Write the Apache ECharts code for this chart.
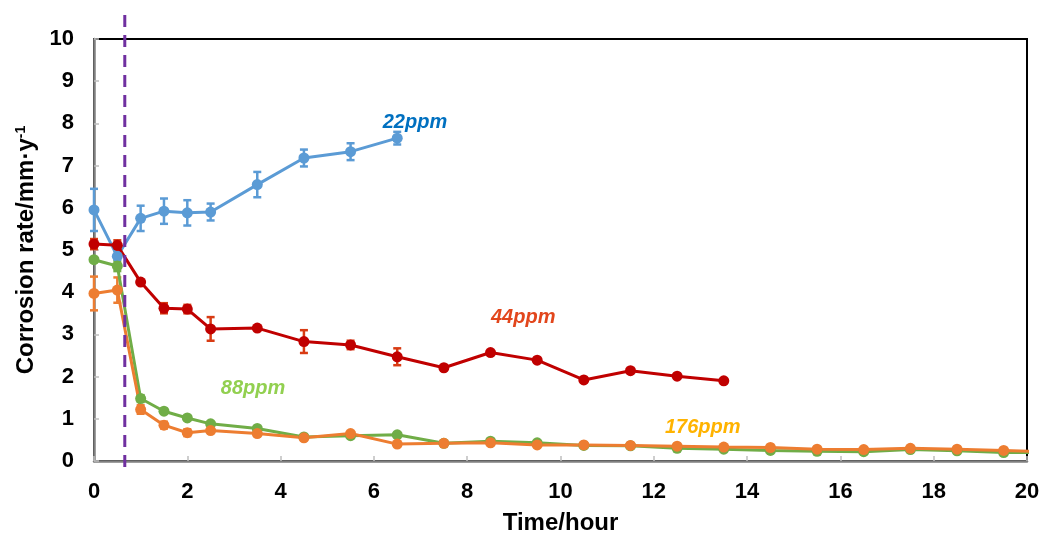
<!DOCTYPE html>
<html>
<head>
<meta charset="utf-8">
<script src="https://cdn.jsdelivr.net/npm/echarts@6/dist/echarts.min.js"></script>
<style>
html, body { margin: 0; padding: 0; background: #fff; }
#chart { width: 1042px; height: 535px; }
</style>
</head>
<body>
<div id="chart"></div>
<script>
// time points (hour)
const time22 = [0, 0.5, 1, 1.5, 2, 2.5, 3.5, 4.5, 5.5, 6.5];
const time44 = [0, 0.5, 1, 1.5, 2, 2.5, 3.5, 4.5, 5.5, 6.5, 7.5, 8.5, 9.5, 10.5, 11.5, 12.5, 13.5];
const timeLong = [0, 0.5, 1, 1.5, 2, 2.5, 3.5, 4.5, 5.5, 6.5, 7.5, 8.5, 9.5, 10.5, 11.5, 12.5, 13.5, 14.5, 15.5, 16.5, 17.5, 18.5, 19.5, 20.5];

// corrosion rate (mm/y) and error bars
const rate22 = [5.95, 4.85, 5.75, 5.92, 5.88, 5.9, 6.55, 7.18, 7.33, 7.65];
const err22 = [0.5, 0.2, 0.3, 0.3, 0.3, 0.2, 0.3, 0.2, 0.2, 0.15];
const rate44 = [5.14, 5.11, 4.24, 3.62, 3.6, 3.13, 3.15, 2.83, 2.75, 2.47, 2.21, 2.57, 2.39, 1.92, 2.14, 2.01, 1.9];
const err44 = [0.12, 0.12, 0, 0.12, 0.1, 0.28, 0, 0.27, 0.1, 0.2, 0, 0, 0, 0, 0, 0, 0];
const rate88 = [4.77, 4.62, 1.48, 1.18, 1.02, 0.88, 0.77, 0.57, 0.6, 0.62, 0.42, 0.47, 0.43, 0.37, 0.36, 0.3, 0.28, 0.25, 0.23, 0.22, 0.27, 0.24, 0.2, 0.2];
const err88 = [0.05, 0.12, 0.08, 0, 0, 0, 0, 0, 0, 0, 0, 0, 0, 0, 0, 0, 0, 0, 0, 0, 0, 0, 0, 0];
const rate176 = [3.97, 4.05, 1.22, 0.85, 0.67, 0.72, 0.65, 0.55, 0.65, 0.4, 0.42, 0.43, 0.38, 0.38, 0.37, 0.35, 0.33, 0.32, 0.28, 0.27, 0.3, 0.28, 0.25, 0.22];
const err176 = [0.4, 0.3, 0.1, 0.08, 0.08, 0, 0, 0, 0, 0, 0, 0, 0, 0, 0, 0, 0, 0, 0, 0, 0, 0, 0, 0];

// series labels: text, x, y (data space), colour
const labelNames = ['22ppm', '44ppm', '88ppm', '176ppm'];
const labelX = [6.88, 9.2, 3.41, 13.05];
const labelY = [8.03, 3.39, 1.73, 0.8];
const labelColors = ['#0070C0', '#E2461C', '#92D050', '#FFB300'];

// inhibitor injection time
const injectTime = 0.66;

const chart = echarts.init(document.getElementById('chart'));

function pairs(xs, ys) {
    return xs.map((x, i) => [x, ys[i]]);
}

function lineSeries(name, xs, ys, color) {
    return {
        name: name,
        type: 'line',
        data: pairs(xs, ys),
        symbol: 'circle',
        symbolSize: 11,
        lineStyle: { color: color, width: 3 },
        itemStyle: { color: color },
        z: 4,
        clip: true
    };
}

function errorSeries(xs, ys, errs, color) {
    const data = [];
    xs.forEach((x, i) => {
        if (errs[i] > 0) data.push([x, ys[i] - errs[i], ys[i] + errs[i]]);
    });
    return {
        type: 'custom',
        silent: true,
        z: 3,
        data: data,
        encode: { x: 0, y: [1, 2] },
        renderItem: (params, api) => {
            const lo = api.coord([api.value(0), api.value(1)]);
            const hi = api.coord([api.value(0), api.value(2)]);
            const w = 4;
            const style = { stroke: color, lineWidth: 2.5 };
            return {
                type: 'group',
                children: [
                    { type: 'line', shape: { x1: lo[0], y1: lo[1], x2: hi[0], y2: hi[1] }, style: style },
                    { type: 'line', shape: { x1: lo[0] - w, y1: lo[1], x2: lo[0] + w, y2: lo[1] }, style: style },
                    { type: 'line', shape: { x1: hi[0] - w, y1: hi[1], x2: hi[0] + w, y2: hi[1] }, style: style }
                ]
            };
        }
    };
}

const axisFont = { color: '#000', fontFamily: 'Liberation Sans, Arial', fontWeight: 'bold', fontSize: 22 };

chart.setOption({
    animation: false,
    grid: {
        left: 94,
        right: 15,
        top: 39,
        bottom: 74,
        outerBoundsMode: 'none',
        show: true,
        borderColor: '#000',
        borderWidth: 2
    },
    xAxis: {
        type: 'value',
        min: 0,
        max: 20,
        interval: 2,
        name: 'Time/hour',
        nameLocation: 'middle',
        nameGap: 50,
        nameTextStyle: Object.assign({}, axisFont, { fontSize: 24 }),
        axisLine: { lineStyle: { color: '#808080', width: 2.5 } },
        axisTick: { inside: true, length: 5, lineStyle: { color: '#bfbfbf', width: 1.5 } },
        axisLabel: Object.assign({ margin: 20 }, axisFont),
        splitLine: { show: false }
    },
    yAxis: {
        type: 'value',
        min: 0,
        max: 10,
        interval: 1,
        name: 'Corrosion rate/mm·y{sup|-1}',
        nameLocation: 'middle',
        nameGap: 56,
        nameTextStyle: Object.assign({}, axisFont, {
            fontSize: 24,
            rich: { sup: { fontFamily: 'Liberation Sans, Arial', fontWeight: 'bold', fontSize: 14, verticalAlign: 'top', color: '#000', padding: [0, 0, 10, 0] } }
        }),
        axisLine: { lineStyle: { color: '#808080', width: 2.5 } },
        axisTick: { inside: true, length: 5, lineStyle: { color: '#bfbfbf', width: 1.5 } },
        axisLabel: Object.assign({ margin: 20 }, axisFont),
        splitLine: { show: false }
    },
    series: [
        errorSeries(time22, rate22, err22, '#5B9BD5'),
        errorSeries(time44, rate44, err44, '#D83B13'),
        errorSeries(timeLong, rate88, err88, '#70AD47'),
        errorSeries(timeLong, rate176, err176, '#ED7D31'),
        lineSeries('22ppm', time22, rate22, '#5B9BD5'),
        lineSeries('44ppm', time44, rate44, '#C00000'),
        lineSeries('88ppm', timeLong, rate88, '#70AD47'),
        lineSeries('176ppm', timeLong, rate176, '#ED7D31')
    ]
});

// dashed injection line and series labels, placed through the axes
const yTop = chart.convertToPixel({ yAxisIndex: 0 }, 10);
const yBottom = chart.convertToPixel({ yAxisIndex: 0 }, 0);
const xLine = chart.convertToPixel({ xAxisIndex: 0 }, injectTime);
const graphics = [{
    type: 'line',
    z: 10,
    shape: { x1: xLine, y1: yTop - 24, x2: xLine, y2: yBottom + 11 },
    style: { stroke: '#7030A0', lineWidth: 3, lineDash: [12, 8] }
}];
labelNames.forEach((t, i) => {
    const p = chart.convertToPixel({ xAxisIndex: 0, yAxisIndex: 0 }, [labelX[i], labelY[i]]);
    graphics.push({
        type: 'text',
        z: 10,
        x: p[0],
        y: p[1],
        style: {
            text: t,
            fill: labelColors[i],
            font: 'italic bold 20px "Liberation Sans", Arial',
            textAlign: 'center',
            textVerticalAlign: 'middle'
        }
    });
});
chart.setOption({ graphic: graphics });
</script>
</body>
</html>
